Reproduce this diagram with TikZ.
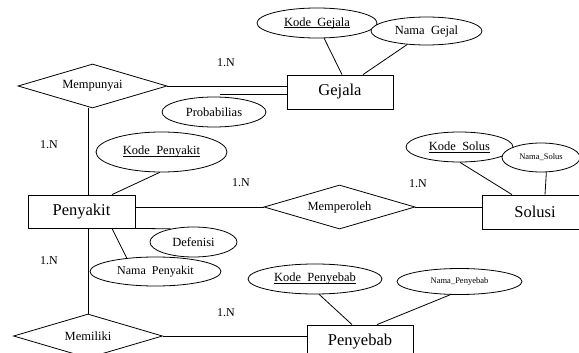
\documentclass[tikz,border=0pt]{standalone}
\usepackage{fontspec}
\setmainfont{Liberation Serif}
\usetikzlibrary{shapes.geometric,calc}
\newsavebox\ulbox
\newcommand\ulx[1]{\sbox\ulbox{#1}\rlap{\rule[-1.6pt]{\wd\ulbox}{0.6pt}}\usebox\ulbox}
\begin{document}
\begin{tikzpicture}[x=1pt,y=-1pt, line width=0.8pt,
  entity/.style={draw, fill=white, rectangle, minimum width=106pt, minimum height=34pt, inner sep=0pt, font=\fontsize{16.5}{18}\selectfont},
  rel/.style={draw, fill=white, diamond, aspect=3.4, minimum width=149pt, minimum height=44pt, inner sep=0pt, font=\fontsize{12.5}{14}\selectfont},
  attr/.style={draw, fill=white, ellipse, inner sep=0pt, font=\fontsize{12.5}{14}\selectfont},
  smallattr/.style={attr, font=\fontsize{8.5}{10}\selectfont},
  card/.style={font=\fontsize{12}{14}\selectfont, inner sep=0pt}]
\useasboundingbox (0,0) rectangle (579,353);

% relationships
\node[rel] (mp) at (92.5,86) {Mempunyai};
\node[rel, minimum width=151pt] (md) at (339.5,207) {Memperoleh};
\node[rel] (ml) at (88,336) {Memiliki};

% entities
\node[entity] (gej) at (340,92) {Gejala};
\node[entity, minimum width=107pt, minimum height=33pt] (pen) at (81.5,211.5) {Penyakit};
\node[entity] (sol) at (535,212) {Solusi};
\node[entity] (pb) at (360,342) {Penyebab};

% attributes
\node[attr, minimum width=120pt, minimum height=30pt] (kg) at (317,23) {\ulx{Kode~~Gejala}};
\node[attr, minimum width=111pt, minimum height=28pt] (ng) at (426.5,31) {Nama~~Gejal};
\node[attr, minimum width=104pt, minimum height=30pt] (prob) at (214,112) {Probabilias};
\node[attr, minimum width=131pt, minimum height=40pt] (kp) at (161.5,152) {\ulx{Kode~~Penyakit}};
\node[attr, minimum width=107pt, minimum height=30pt] (ks) at (459.5,147) {\ulx{Kode~~Solus}};
\node[smallattr, minimum width=78pt, minimum height=29pt] (ns) at (541,157.5) {Nama\_Solus};
\node[attr, minimum width=87pt, minimum height=30pt] (def) at (193.5,242) {Defenisi};
\node[attr, minimum width=131pt, minimum height=29pt, font=\fontsize{12}{14}\selectfont] (np) at (155.5,271.5) {Nama~~Penyakit};
\node[attr, minimum width=134pt, minimum height=30pt] (kpb) at (315,279) {\ulx{Kode~~Penyebab}};
\node[smallattr, minimum width=125pt, minimum height=26pt] (npb) at (459.5,281.5) {Nama\_Penyebab};

% connectors
\draw (mp.east) -- (mp.east -| gej.west);
\coordinate (pl) at ([shift={(6pt,2pt)}]prob.north);
\draw (pl) -- (pl -| gej.west);
\draw (kg.-65) -- ([xshift=2pt]gej.north);
\draw (ng.-145) -- ([xshift=23pt]gej.north);
\draw ([xshift=-4.5pt]mp.south) -- ([xshift=-4.5pt]mp.south |- pen.north);
\draw (kp.-95) -- ([xshift=30.5pt]pen.north);
\draw (pen.east |- md.west) -- (md.west);
\draw (md.east) -- (md.east -| sol.west);
\draw (ks.-88) -- ([xshift=-23pt]sol.north);
\draw (ns.-70) -- ([xshift=10pt]sol.north);
\draw (pen.south east) -- (def.150);
\draw (np.155) -- ([xshift=30.5pt]pen.south);
\draw (ml.north) -- (ml.north |- pen.south);
\draw (ml.east) -- (ml.east -| pb.west);
\draw (kpb.-75) -- ([xshift=-8pt]pb.north);
\draw (npb.-125) -- ([xshift=17pt]pb.north);

% cardinalities
\node[card] (c1) at (226,63) {1.N};
\node[card] (c2) at (49,145) {1.N};
\node[card] (c3) at (241,183) {1.N};
\node[card] (c4) at (418,184) {1.N};
\node[card] (c5) at (49,261) {1.N};
\node[card] (c6) at (226,313) {1.N};
\end{tikzpicture}
\end{document}
